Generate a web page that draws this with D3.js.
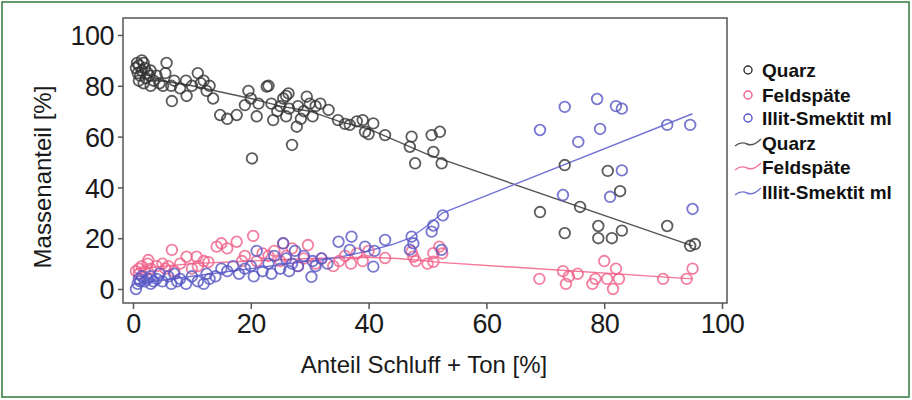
<!DOCTYPE html>
<html><head><meta charset="utf-8">
<script src="https://cdn.jsdelivr.net/npm/d3@7"></script>
<style>body{margin:0;background:#fff}svg{display:block}</style>
</head><body>
<svg id="c" width="912" height="400"></svg>
<script>
const xTicks = [0, 20, 40, 60, 80, 100];
const yTicks = [0, 20, 40, 60, 80, 100];
const seriesNames = ["Quarz", "Feldspäte", "Illit-Smektit ml"];

const quarzPts = [[0.5,87],[0.8,85],[1,88],[1.2,84],[1.5,86],[1.8,89],[2,87],[2.2,83],[2.5,85],[1,82],[0.7,89],[1.5,90],[2.8,84],[3,86],[3.5,82],[1.8,81],[3,80],[4,84],[4.5,81],[5.1,80],[5.5,85],[5.7,89],[6.5,80],[7,82],[6.6,74],[8,79],[9,82],[9.1,76],[10,80],[11,85],[11.5,81],[12,82],[12.5,78],[13,80],[13.6,75],[14.8,68.5],[16,67],[17.6,68.5],[19,72.4],[19.6,78],[20.2,51.4],[20,75],[21,68],[21.3,73],[22.7,79.7],[23,80],[23.5,73],[23.8,66.5],[24.5,70],[25,72],[25.5,75],[26,76],[26.4,77],[26,68],[26.5,71],[27,56.7],[27.8,63.9],[28,72],[28.5,67],[29,70],[29.5,75.7],[30,73],[30.5,68],[31,72],[31.8,73],[33.2,70.5],[34.8,66.5],[36,65],[36.8,64.6],[38,66],[39,66.5],[39.4,61.9],[40.8,65.2],[40,61],[42.8,60.6],[47.3,60],[47,56],[47.9,49.5],[50.7,60.6],[51,54],[52.1,61.9],[52.4,49.5],[69.1,30.3],[73.3,48.8],[73.3,22],[75.9,32.3],[79,24.8],[79,20],[80.6,46.5],[81.3,20],[82.7,38.5],[83,23],[90.7,24.8],[94.6,17],[95.4,17.7]];

const feldPts = [[0.5,7],[1,8],[1,6],[1.5,9],[2,7],[2.5,10],[3,8],[2.6,11.4],[4,9],[5,10],[5.5,8],[6,9],[6.6,15.4],[7,7],[8,10],[9.1,12.7],[10,8],[10.8,12.7],[11,9],[12,11],[12.8,10.6],[14.2,16.7],[15,18],[16,16],[17.6,18.6],[18.5,11],[19,13],[20.4,20.9],[21,11],[22,14],[23,13],[24,15],[25,11],[25.5,18],[26,13],[27,16],[28,9],[29,12],[29.7,17.3],[31,10],[32,12],[34,9],[35,11],[36,13],[37,10],[38,14],[39,11],[40,15],[42.8,12.2],[47.3,14.7],[47.6,12.7],[48,11],[50,10],[51,14.1],[51,10.7],[52,16.7],[52.5,14],[69,4],[73,7],[73.5,2],[74,5],[75.5,6],[78,2],[78.5,4],[80,11],[80.5,4],[81.5,0],[82,8],[82.5,4],[90,4],[94,4],[95,8]];

const illitPts = [[0.5,0],[0.8,2],[1,4],[1.2,3],[1.5,5],[2,3],[2.5,4],[3,2],[3,5],[3.5,3],[4,4],[4.5,6],[5,3],[6,5],[6.5,2],[7,6],[7.5,3],[8,4],[9,2],[10,5],[11,3],[12,2],[12.5,6],[13,4],[14,5],[15,8],[16,7],[17,9],[18,6],[19,8],[20,9],[20.5,5],[21,15],[22,7],[23,10],[23.5,6],[24,13],[25,8],[25.5,18],[26,12],[26.5,7],[27,10],[27.5,15],[28,9],[29,13],[30.3,4.8],[30.5,11],[31,9],[32,12],[33,10],[34.9,18.6],[36.8,15.4],[37.1,20.6],[39.4,16.7],[40.8,8.8],[41,15],[42.8,19.3],[47.3,20.6],[47.6,18],[47,15.5],[50.7,22.6],[51,25],[52.6,29],[52.4,15.4],[69.1,62.6],[73.3,71.7],[73,37],[75.6,57.9],[78.8,74.8],[79.3,63],[81,36.3],[82,72],[83,71],[83,46.7],[90.7,64.6],[94.6,64.6],[95,31.5]];

const quarzFit = [[0.5,86],[5,82],[10,80],[20,75],[25,72],[30,70],[35,66],[40,63],[45,58],[50,53],[95,17]];
const feldFit = [[0.5,8],[10,10],[20,11],[30,12],[40,12.5],[45,12],[50,11],[52,10.5],[95,4]];
const illitFit = [[0.5,2],[10,5],[20,8],[30,11],[35,12.5],[40,15],[44,17.5],[47,20],[50,25],[52.6,30],[95,69]];

const ptColors = ["#333333", "#f0608a", "#5656c4"];
const lineColors = ["#555555", "#f47898", "#7474d8"];

const svg = d3.select("#c");
svg.append("rect").attr("x",2).attr("y",2).attr("width",907).attr("height",395)
  .attr("fill","#fff").attr("stroke","#2f7a3e").attr("stroke-width",1.5);

const x = d3.scaleLinear().domain([0,100]).range([133,722]);
const y = d3.scaleLinear().domain([0,100]).range([289,35]);

svg.append("rect").attr("x",123).attr("y",18).attr("width",604).attr("height",285)
  .attr("fill","none").attr("stroke","#555").attr("stroke-width",1.5);

const font = "'Liberation Sans', Arial, sans-serif";
const xAxis = svg.append("g").attr("transform","translate(0,303)")
  .call(d3.axisBottom(x).tickValues(xTicks).tickSize(6).tickPadding(5).tickFormat(d3.format("d")));
const yAxis = svg.append("g").attr("transform","translate(123,0)")
  .call(d3.axisLeft(y).tickValues(yTicks).tickSize(5).tickPadding(4).tickFormat(d3.format("d")));
[xAxis,yAxis].forEach(g=>{
  g.select(".domain").remove();
  g.selectAll("line").attr("stroke","#555").attr("stroke-width",1.5);
  g.selectAll("text").attr("font-family",font).attr("font-size",27).attr("fill","#1a1a1a")
    .attr("letter-spacing","-0.5");
});
yAxis.selectAll("text").attr("dy","0.36em");
xAxis.selectAll("text").attr("dy","0.72em");

svg.append("text").attr("x",424).attr("y",373).attr("text-anchor","middle")
  .attr("font-family",font).attr("font-size",24).attr("fill","#1a1a1a").text("Anteil Schluff + Ton [%]");
svg.append("text").attr("transform","translate(51,177) rotate(-90)").attr("text-anchor","middle")
  .attr("font-family",font).attr("font-size",24).attr("fill","#1a1a1a").text("Massenanteil [%]");

const line = d3.line().x(d=>x(d[0])).y(d=>y(d[1]));
[quarzFit, feldFit, illitFit].forEach((f,i)=>{
  svg.append("path").datum(f).attr("d",line).attr("fill","none")
    .attr("stroke",lineColors[i]).attr("stroke-width",1.4);
});
[feldPts, illitPts, quarzPts].forEach((pts,j)=>{
  const i = [1,2,0][j];
  svg.append("g").selectAll("circle").data(pts).join("circle")
    .attr("cx",d=>x(d[0])).attr("cy",d=>y(d[1])).attr("r",5.3)
    .attr("fill","none").attr("stroke",ptColors[i]).attr("stroke-width",1.8)
    .attr("stroke-opacity", 0.8);
});

const rows = [70,95,118,143,167,192];
const lg = svg.append("g");
seriesNames.forEach((n,i)=>{
  const r = rows[i];
  lg.append("circle").attr("cx",748).attr("cy",r).attr("r",4).attr("fill","none")
    .attr("stroke",ptColors[i]).attr("stroke-width",1.4);
  lg.append("text").attr("x",762).attr("y",r).attr("dy","0.36em").attr("font-family",font)
    .attr("font-weight","bold").attr("font-size",19).attr("fill","#111").text(n);
  const r2 = rows[i+3];
  lg.append("path").attr("d",`M735,${r2+3} Q741,${r2-2} 747,${r2+1} T761,${r2-4}`)
    .attr("fill","none").attr("stroke",lineColors[i]).attr("stroke-width",1.4);
  lg.append("text").attr("x",762).attr("y",r2).attr("dy","0.36em").attr("font-family",font)
    .attr("font-weight","bold").attr("font-size",19).attr("fill","#111").text(n);
});
</script>
</body></html>
